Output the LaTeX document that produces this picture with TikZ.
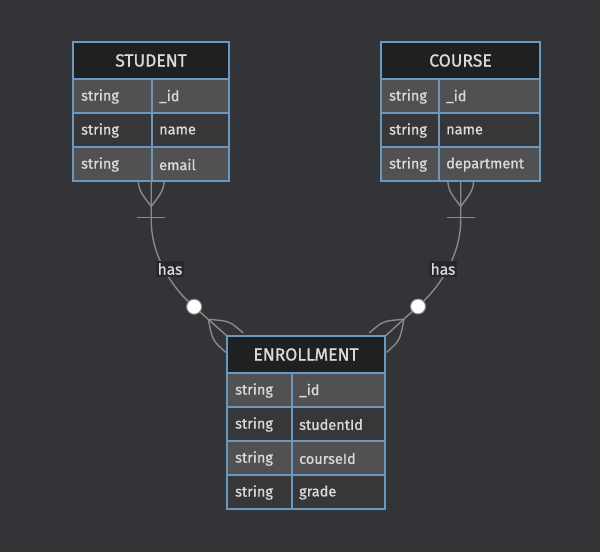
\documentclass[tikz,border=0pt]{standalone}
\usepackage{fontspec}
\setmainfont{Fira Sans}[FakeBold=0.9]
\definecolor{bgc}{HTML}{333437}
\definecolor{hdrc}{HTML}{1F2021}
\definecolor{rowlight}{HTML}{515151}
\definecolor{rowdark}{HTML}{373738}
\definecolor{bordc}{HTML}{6B98C0}
\definecolor{txtc}{HTML}{DADADA}
\definecolor{linec}{HTML}{8A8A8A}
\definecolor{lblc}{HTML}{27282A}
\tikzset{
  border/.style={draw=bordc, line width=1.6pt},
  hdrtext/.style={text=txtc, font=\fontsize{17.5}{19}\selectfont, inner sep=0pt},
  celltext/.style={text=txtc, font=\fontsize{14.5}{16}\selectfont, inner sep=0pt, anchor=west},
  rel/.style={draw=linec, line width=1.4pt},
  lbl/.style={fill=lblc, text=txtc, font=\fontsize{15.5}{17}\selectfont, inner xsep=1.5pt, inner ysep=2.5pt},
  zerocirc/.style={draw=linec, line width=1pt, fill=white}
}
\newcommand\erentity[8]{%
  \pgfmathsetmacro\ebot{#3+37+34*#7}%
  \pgfmathsetmacro\eright{#2+#4}%
  \fill[hdrc] (#2,#3) rectangle (\eright,{#3+37});
  \node[hdrtext] (#1-h) at ({#2+#4/2},{#3+18.5}) {#6};
  \foreach \t/\n [count=\i from 0] in {#8} {
    \pgfmathsetmacro\ry{#3+37+34*\i}
    \pgfmathtruncatemacro\odd{mod(\i,2)}
    \ifnum\odd=0 \def\rc{rowlight}\else\def\rc{rowdark}\fi
    \fill[\rc] (#2,\ry) rectangle (\eright,{\ry+34});
    \draw[border] (#2,\ry) -- (\eright,\ry);
    \node[celltext] (#1-t\i) at ({#2+8},{\ry+17.5}) {\t};
    \node[celltext] (#1-n\i) at ({#2+#5+7},{\ry+17.5}) {\n};
  }
  \draw[border] ({#2+#5},{#3+37}) -- ({#2+#5},\ebot);
  \draw[border] (#2,#3) rectangle (\eright,\ebot);
}
\newcommand\crowfoot{%
  \draw[rel] (-25,0) .. controls (-8,13) .. (10,13);
  \draw[rel] (-25,0) .. controls (-8,-13) .. (10,-13);
}
\begin{document}
\begin{tikzpicture}[x=1pt,y=-1pt]
\fill[bgc] (0,0) rectangle (600,552);
\useasboundingbox (0,0) rectangle (600,552);
% placeholder nodes for entity extents
\node[inner sep=0pt, minimum width=156pt, minimum height=139pt, anchor=north west] (student) at (73,42) {};
\node[inner sep=0pt, minimum width=159pt, minimum height=139pt, anchor=north west] (course) at (381,42) {};
\node[inner sep=0pt, minimum width=158pt, minimum height=173pt, anchor=north west] (enroll) at (227,336) {};
% connectors
\draw[rel] (student.south) -- ++(0,39) .. controls +(0,33) and (170,285) .. (190,303) -- (enroll.north west);
\draw[rel] (course.south) -- ++(0,39) .. controls +(0,33) and (441.5,285) .. (421.5,303) -- (enroll.north east);
% markers
\begin{scope}[shift={(student.south)}, rotate=90]
  \crowfoot
  \draw[rel] (-36,-14) -- (-36,14);
\end{scope}
\begin{scope}[shift={(course.south)}, rotate=90]
  \crowfoot
  \draw[rel] (-36,-14) -- (-36,14);
\end{scope}
\begin{scope}[shift={(enroll.north west)}, rotate=-41.7]
  \crowfoot
  \draw[zerocirc] (-44,0) circle (7.5);
\end{scope}
\begin{scope}[shift={(enroll.north east)}, rotate=-137.9]
  \crowfoot
  \draw[zerocirc] (-44,0) circle (7.5);
\end{scope}
\node[lbl] (lbl1) at (170,269) {has};
\node[lbl] (lbl2) at (443,269) {has};
% entities
\erentity{S}{73}{42}{156}{79}{STUDENT}{3}{string/\_id, string/name, string/email}
\erentity{C}{381}{42}{159}{58}{COURSE}{3}{string/\_id, string/name, string/department}
\erentity{E}{227}{336}{158}{65}{ENROLLMENT}{4}{string/\_id, string/studentId, string/courseId, string/grade}
\end{tikzpicture}
\end{document}
